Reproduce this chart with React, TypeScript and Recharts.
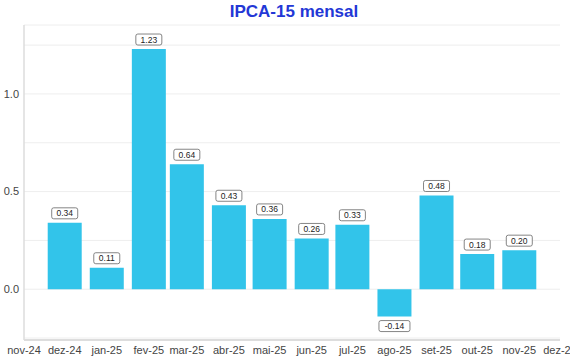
import { BarChart, Bar, XAxis, YAxis, CartesianGrid, LabelList } from "recharts";

const monthLabels = [
  "nov-24", "dez-24", "jan-25", "fev-25", "mar-25", "abr-25", "mai-25",
  "jun-25", "jul-25", "ago-25", "set-25", "out-25", "nov-25", "dez-25",
];
// first day of each month on the axis (year, month index)
const monthStarts = [
  [2024, 10], [2024, 11], [2025, 0], [2025, 1], [2025, 2], [2025, 3], [2025, 4],
  [2025, 5], [2025, 6], [2025, 7], [2025, 8], [2025, 9], [2025, 10], [2025, 11],
];
const ipcaValues = [0.34, 0.11, 1.23, 0.64, 0.43, 0.36, 0.26, 0.33, -0.14, 0.48, 0.18, 0.2];
const yTicks = [-0.25, 0, 0.25, 0.5, 0.75, 1, 1.25];

const tickTimes = monthStarts.map(([y, m]) => Date.UTC(y, m, 1));
const data = ipcaValues.map((v, i) => ({ t: tickTimes[i + 1], value: v }));

function ValueBox(props: any) {
  const { x, y, width, height, value } = props;
  const top = Math.min(y, y + height);
  const bottom = Math.max(y, y + height);
  const txt = Number(value).toFixed(2);
  const w = txt.length * 5 + 6;
  const h = 11;
  const cx = x + width / 2;
  const boxY = value >= 0 ? top - 4 - h : bottom + 4;
  return (
    <g>
      <rect x={cx - w / 2} y={boxY} width={w} height={h} rx={2} fill="#fff" stroke="#666" strokeWidth={0.8} />
      <text x={cx} y={boxY + h / 2 + 3} textAnchor="middle" fontSize={8.5} fill="#222"
        fontFamily="'Liberation Sans', Arial, sans-serif">{txt}</text>
    </g>
  );
}

export default function App() {
  return (
    <div style={{ position: "absolute", left: 0, top: 0, width: 570, height: 360, background: "#fff",
      fontFamily: "'Liberation Sans', Arial, sans-serif" }}>
      <div style={{ position: "absolute", top: 2, left: 0, width: 588, textAlign: "center",
        fontWeight: "bold", fontSize: 17, color: "#2337d6" }}>IPCA-15 mensal</div>
      <BarChart width={570} height={360} data={data}
        margin={{ top: 25, right: 10, bottom: 0, left: 0 }}>
        <CartesianGrid vertical={false} stroke="#eeeeee" />
        <XAxis dataKey="t" type="number" scale="linear"
          domain={[tickTimes[0], tickTimes[tickTimes.length - 1]]}
          ticks={tickTimes} interval={0} height={20}
          tickFormatter={(t: number) => monthLabels[tickTimes.indexOf(t)]}
          tick={{ fontSize: 11, fill: "#444" }} tickLine={false} tickSize={0}
          axisLine={{ stroke: "#dddddd", strokeWidth: 2 }} tickMargin={6} />
        <YAxis type="number" domain={[-0.26, 1.353]} allowDataOverflow ticks={yTicks} width={24}
          tickFormatter={(v: number) => (Math.abs(v * 2 - Math.round(v * 2)) < 1e-6 ? v.toFixed(1) : "")}
          tick={{ fontSize: 11, fill: "#444" }} tickLine={false} tickSize={0}
          axisLine={{ stroke: "#dddddd", strokeWidth: 1.5 }} tickMargin={5} />
        <Bar dataKey="value" fill="#32c4ea" barSize={34} isAnimationActive={false}>
          <LabelList dataKey="value" content={ValueBox} />
        </Bar>
      </BarChart>
    </div>
  );
}
